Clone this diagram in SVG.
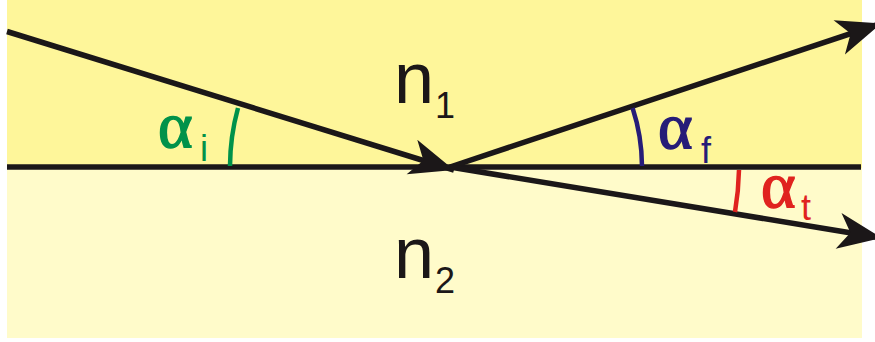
<svg xmlns="http://www.w3.org/2000/svg" width="875" height="342" viewBox="0 0 875 342">
<style>
.ray{stroke:#1b1718;stroke-width:5.5;fill:none;stroke-linecap:butt}
.arc{fill:none;stroke-width:4.5}
.greek{font-family:"Liberation Serif","DejaVu Serif",serif;font-size:66px;stroke-width:1.5}
.sub{font-family:"Liberation Sans",Arial,sans-serif;font-size:36px}
.big{font-family:"Liberation Sans",Arial,sans-serif;font-size:72px;fill:#1b1718}
</style>
<defs>
<marker id="ah" markerUnits="userSpaceOnUse" markerWidth="50" markerHeight="40" viewBox="-45 -20 50 40" refX="0" refY="0" orient="auto" overflow="visible">
<path d="M0,0 L-44,-18 L-32,0 L-44,18 Z" fill="#1b1718"/>
</marker>
</defs>
<rect x="0" y="0" width="875" height="342" fill="#ffffff"/>
<g id="medium1"><rect x="7" y="0" width="855" height="168" fill="#fef69a"/></g>
<g id="medium2"><rect x="7" y="168" width="855" height="170" fill="#fffbca"/></g>
<g id="connectors">
<line class="ray" x1="7" y1="167" x2="861" y2="167"/>
<line class="ray" x1="7" y1="31.5" x2="454" y2="170" marker-end="url(#ah)"/>
<line class="ray" x1="450" y1="167" x2="881" y2="23.5" marker-end="url(#ah)"/>
<line class="ray" x1="450" y1="167" x2="882" y2="238" marker-end="url(#ah)"/>
</g>
<g id="angle-i">
<path class="arc" stroke="#00924a" d="M230,166 A222,222 0 0 1 238,108"/>
<text x="158" y="147" class="greek" fill="#00924a" stroke="#00924a">α</text>
<text x="200" y="161" class="sub" fill="#00924a">i</text>
</g>
<g id="angle-f">
<path class="arc" stroke="#261c78" d="M642,166 A190,190 0 0 0 632.6,108"/>
<text x="658" y="148" class="greek" fill="#261c78" stroke="#261c78">α</text>
<text x="701" y="163" class="sub" fill="#261c78">f</text>
</g>
<g id="angle-t">
<path class="arc" stroke="#e0231f" d="M739,170 A287,287 0 0 1 735,212"/>
<text x="761" y="207" class="greek" fill="#e0231f" stroke="#e0231f">α</text>
<text x="801" y="220" class="sub" fill="#e0231f">t</text>
</g>
<g id="n1">
<text x="394" y="103" class="big">n</text>
<text x="435" y="118" class="sub" fill="#1b1718">1</text>
</g>
<g id="n2">
<text x="394" y="278" class="big">n</text>
<text x="435" y="293" class="sub" fill="#1b1718">2</text>
</g>
</svg>
